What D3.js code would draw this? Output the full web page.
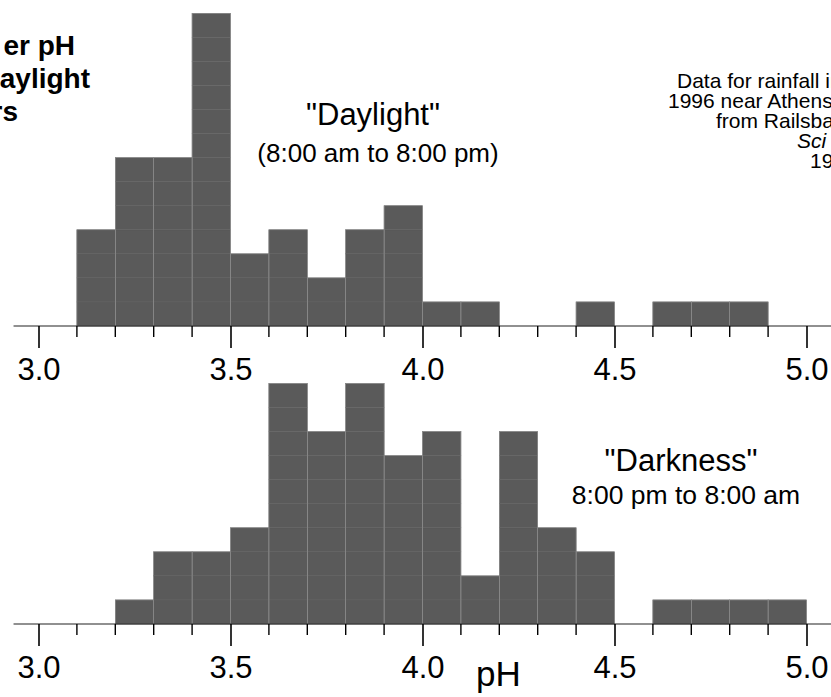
<!DOCTYPE html>
<html>
<head>
<meta charset="utf-8">
<script src="https://cdn.jsdelivr.net/npm/d3@7"></script>
<style>
  body { margin: 0; background: #fff; }
  svg { display: block; font-family: "Liberation Sans", Arial, sans-serif; }
</style>
</head>
<body>
<div id="chart"></div>
<script>
// bins are 0.1 pH wide, labelled by their lower edge
const binStarts = [3.0, 3.1, 3.2, 3.3, 3.4, 3.5, 3.6, 3.7, 3.8, 3.9,
                   4.0, 4.1, 4.2, 4.3, 4.4, 4.5, 4.6, 4.7, 4.8, 4.9];
const daylightCounts = [0, 4, 7, 7, 13, 3, 4, 2, 4, 5,
                        1, 1, 0, 0, 1, 0, 1, 1, 1, 0];
const darknessCounts = [0, 0, 1, 3, 3, 4, 10, 8, 10, 7,
                        8, 2, 8, 4, 3, 0, 1, 1, 1, 1];
const majorTicks = [3.0, 3.5, 4.0, 4.5, 5.0];
const tickLabels = ["3.0", "3.5", "4.0", "4.5", "5.0"];
const minorTicks = [3.1, 3.2, 3.3, 3.4, 3.6, 3.7, 3.8, 3.9,
                    4.1, 4.2, 4.3, 4.4, 4.6, 4.7, 4.8, 4.9];
const binWidth = 0.1;

const svgWidth = 831;
const svgHeight = 697;

let svg = d3.select('#chart')
    .append('svg')
    .attr('width', svgWidth)
    .attr('height', svgHeight)

let x = d3.scaleLinear()
    .domain([3.0, 5.0])
    .range([38.5, 806.5])

const barColor = '#5a5a5a'

function drawPanel(counts, baseY) {
    let y = d3.scaleLinear()
        .domain([0, 1])
        .range([baseY, baseY - 24.05])

    let g = svg.append('g')

    // one unit box per observation, stacked (gives the faint grid inside bars)
    let cells = []
    counts.forEach((c, i) => {
        for (let k = 0; k < c; k++) cells.push({ x0: binStarts[i], k: k })
    })
    g.selectAll('rect.cell')
        .data(cells)
        .enter()
        .append('rect')
            .attr('class', 'cell')
            .attr('x', d => x(d.x0))
            .attr('y', d => y(d.k + 1))
            .attr('width', d => x(d.x0 + binWidth) - x(d.x0))
            .attr('height', d => y(d.k) - y(d.k + 1))
            .style('fill', barColor)
            .style('stroke', '#626262')
            .style('stroke-width', 0.5)

    // outline of each bar
    g.selectAll('rect.bar')
        .data(binStarts.map((b, i) => ({ x0: b, n: counts[i] })).filter(d => d.n > 0))
        .enter()
        .append('rect')
            .attr('class', 'bar')
            .attr('x', d => x(d.x0))
            .attr('y', d => y(d.n))
            .attr('width', d => x(d.x0 + binWidth) - x(d.x0))
            .attr('height', d => y(0) - y(d.n))
            .style('fill', 'none')
            .style('stroke', '#8c8c8c')
            .style('stroke-width', 0.6)

    // axis line
    g.append('line')
        .attr('x1', x(2.935)).attr('x2', svgWidth)
        .attr('y1', baseY).attr('y2', baseY)
        .style('stroke', '#222')
        .style('stroke-width', 1.2)

    let axis = d3.axisBottom(x)
        .tickValues(majorTicks)
        .tickSize(22)
        .tickPadding(10)
        .tickFormat((d, i) => tickLabels[i])

    let ax = g.append('g')
        .attr('transform', `translate(0, ${baseY})`)
        .call(axis)
    ax.select('.domain').remove()
    ax.selectAll('.tick line').style('stroke', '#000').style('stroke-width', 1.6)
    ax.selectAll('.tick text')
        .style('font-size', '31px')
        .style('fill', '#000')
        .style('font-family', '"Liberation Sans", Arial, sans-serif')

    g.selectAll('line.minor')
        .data(minorTicks)
        .enter()
        .append('line')
            .attr('class', 'minor')
            .attr('x1', d => x(d)).attr('x2', d => x(d))
            .attr('y1', baseY).attr('y2', baseY + 11)
            .style('stroke', '#000')
            .style('stroke-width', 1.4)
}

drawPanel(daylightCounts, 326)
drawPanel(darknessCounts, 624)

// title, cut off at the left edge
let title = svg.append('g')
    .style('font-weight', 'bold')
    .style('font-size', '28px')
    .attr('text-anchor', 'end')
title.append('text').attr('x', 75).attr('y', 55).text('er pH')
title.append('text').attr('x', 90).attr('y', 88).text('aylight')
title.append('text').attr('x', 18).attr('y', 121).text('rs')

// source note, cut off at the right edge
let note = svg.append('g').style('font-size', '21px')
note.append('text').attr('x', 677).attr('y', 88).text('Data for rainfall in')
note.append('text').attr('x', 668).attr('y', 108).text('1996 near Athens')
note.append('text').attr('x', 716).attr('y', 128).text('from Railsback')
note.append('text').attr('x', 797).attr('y', 148).style('font-style', 'italic').text('Sci')
note.append('text').attr('x', 810).attr('y', 168).text('19')

// panel labels
svg.append('text')
    .attr('x', 373).attr('y', 125)
    .attr('text-anchor', 'middle')
    .style('font-size', '31px')
    .text('"Daylight"')
svg.append('text')
    .attr('x', 378).attr('y', 162)
    .attr('text-anchor', 'middle')
    .style('font-size', '26px')
    .text('(8:00 am to 8:00 pm)')

svg.append('text')
    .attr('x', 681).attr('y', 471)
    .attr('text-anchor', 'middle')
    .style('font-size', '31px')
    .text('"Darkness"')
svg.append('text')
    .attr('x', 686).attr('y', 504)
    .attr('text-anchor', 'middle')
    .style('font-size', '26.5px')
    .text('8:00 pm to 8:00 am')

svg.append('text')
    .attr('x', 476).attr('y', 686)
    .style('font-size', '35px')
    .text('pH')
</script>
</body>
</html>
